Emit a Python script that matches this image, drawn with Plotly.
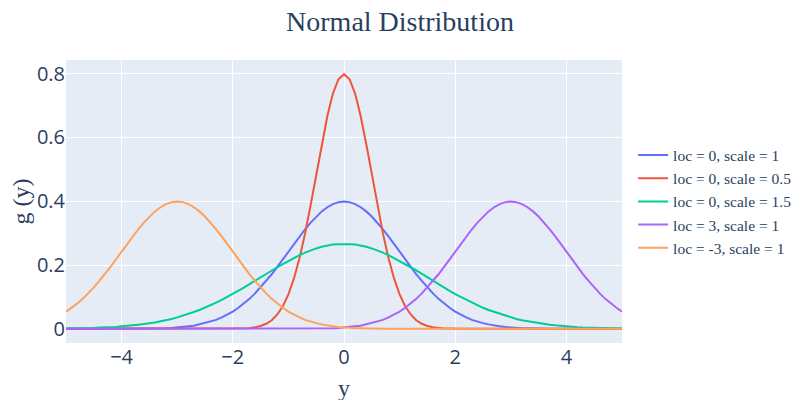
import plotly.graph_objects as go

x_vals = [
    -5.0, -4.9, -4.8, -4.7, -4.6, -4.5, -4.4, -4.3, -4.2, -4.1,
    -4.0, -3.9, -3.8, -3.7, -3.6, -3.5, -3.4, -3.3, -3.2, -3.1,
    -3.0, -2.9, -2.8, -2.7, -2.6, -2.5, -2.4, -2.3, -2.2, -2.1,
    -2.0, -1.9, -1.8, -1.7, -1.6, -1.5, -1.4, -1.3, -1.2, -1.1,
    -1.0, -0.9, -0.8, -0.7, -0.6, -0.5, -0.4, -0.3, -0.2, -0.1,
    0.0, 0.1, 0.2, 0.3, 0.4, 0.5, 0.6, 0.7, 0.8, 0.9,
    1.0, 1.1, 1.2, 1.3, 1.4, 1.5, 1.6, 1.7, 1.8, 1.9,
    2.0, 2.1, 2.2, 2.3, 2.4, 2.5, 2.6, 2.7, 2.8, 2.9,
    3.0, 3.1, 3.2, 3.3, 3.4, 3.5, 3.6, 3.7, 3.8, 3.9,
    4.0, 4.1, 4.2, 4.3, 4.4, 4.5, 4.6, 4.7, 4.8, 4.9,
    5.0,
]

g_loc0_scale1 = [
    0, 0, 0, 0, 0, 0, 0, 0, 0, 0,
    0.000, 0.000, 0.000, 0.000, 0.001, 0.001, 0.001, 0.002, 0.002, 0.003,
    0.004, 0.006, 0.008, 0.010, 0.014, 0.018, 0.022, 0.028, 0.036, 0.044,
    0.054, 0.066, 0.079, 0.094, 0.111, 0.130, 0.150, 0.171, 0.194, 0.218,
    0.242, 0.266, 0.290, 0.312, 0.333, 0.352, 0.368, 0.381, 0.391, 0.397,
    0.399, 0.397, 0.391, 0.381, 0.368, 0.352, 0.333, 0.312, 0.290, 0.266,
    0.242, 0.218, 0.194, 0.171, 0.150, 0.130, 0.111, 0.094, 0.079, 0.066,
    0.054, 0.044, 0.036, 0.028, 0.022, 0.018, 0.014, 0.010, 0.008, 0.006,
    0.004, 0.003, 0.002, 0.002, 0.001, 0.001, 0.001, 0.000, 0.000, 0.000,
    0, 0, 0, 0, 0, 0, 0, 0, 0, 0,
    0,
]

g_loc0_scale05 = [
    0, 0, 0, 0, 0, 0, 0, 0, 0, 0,
    0, 0, 0, 0, 0, 0, 0, 0, 0, 0,
    0, 0, 0, 0, 0, 0, 0, 0, 0, 0,
    0.000, 0.001, 0.001, 0.002, 0.005, 0.009, 0.016, 0.027, 0.045, 0.071,
    0.108, 0.158, 0.222, 0.299, 0.388, 0.484, 0.579, 0.666, 0.737, 0.782,
    0.798, 0.782, 0.737, 0.666, 0.579, 0.484, 0.388, 0.299, 0.222, 0.158,
    0.108, 0.071, 0.045, 0.027, 0.016, 0.009, 0.005, 0.002, 0.001, 0.001,
    0, 0, 0, 0, 0, 0, 0, 0, 0, 0,
    0, 0, 0, 0, 0, 0, 0, 0, 0, 0,
    0, 0, 0, 0, 0, 0, 0, 0, 0, 0,
    0,
]

g_loc0_scale15 = [
    0.001, 0.001, 0.002, 0.002, 0.002, 0.003, 0.004, 0.004, 0.005, 0.006,
    0.008, 0.009, 0.011, 0.013, 0.015, 0.017, 0.020, 0.024, 0.027, 0.031,
    0.036, 0.041, 0.047, 0.053, 0.059, 0.066, 0.074, 0.082, 0.091, 0.100,
    0.109, 0.119, 0.129, 0.140, 0.151, 0.161, 0.172, 0.183, 0.193, 0.203,
    0.213, 0.222, 0.231, 0.239, 0.246, 0.252, 0.257, 0.261, 0.264, 0.265,
    0.266, 0.265, 0.264, 0.261, 0.257, 0.252, 0.246, 0.239, 0.231, 0.222,
    0.213, 0.203, 0.193, 0.183, 0.172, 0.161, 0.151, 0.140, 0.129, 0.119,
    0.109, 0.100, 0.091, 0.082, 0.074, 0.066, 0.059, 0.053, 0.047, 0.041,
    0.036, 0.031, 0.027, 0.024, 0.020, 0.017, 0.015, 0.013, 0.011, 0.009,
    0.008, 0.006, 0.005, 0.004, 0.004, 0.003, 0.002, 0.002, 0.002, 0.001,
    0.001,
]

g_loc3_scale1 = [
    0, 0, 0, 0, 0, 0, 0, 0, 0, 0,
    0, 0, 0, 0, 0, 0, 0, 0, 0, 0,
    0, 0, 0, 0, 0, 0, 0, 0, 0, 0,
    0, 0, 0, 0, 0, 0, 0, 0, 0, 0,
    0.000, 0.000, 0.000, 0.000, 0.001, 0.001, 0.001, 0.002, 0.002, 0.003,
    0.004, 0.006, 0.008, 0.010, 0.014, 0.018, 0.022, 0.028, 0.036, 0.044,
    0.054, 0.066, 0.079, 0.094, 0.111, 0.130, 0.150, 0.171, 0.194, 0.218,
    0.242, 0.266, 0.290, 0.312, 0.333, 0.352, 0.368, 0.381, 0.391, 0.397,
    0.399, 0.397, 0.391, 0.381, 0.368, 0.352, 0.333, 0.312, 0.290, 0.266,
    0.242, 0.218, 0.194, 0.171, 0.150, 0.130, 0.111, 0.094, 0.079, 0.066,
    0.054,
]

g_locm3_scale1 = [
    0.054, 0.066, 0.079, 0.094, 0.111, 0.130, 0.150, 0.171, 0.194, 0.218,
    0.242, 0.266, 0.290, 0.312, 0.333, 0.352, 0.368, 0.381, 0.391, 0.397,
    0.399, 0.397, 0.391, 0.381, 0.368, 0.352, 0.333, 0.312, 0.290, 0.266,
    0.242, 0.218, 0.194, 0.171, 0.150, 0.130, 0.111, 0.094, 0.079, 0.066,
    0.054, 0.044, 0.036, 0.028, 0.022, 0.018, 0.014, 0.010, 0.008, 0.006,
    0.004, 0.003, 0.002, 0.002, 0.001, 0.001, 0.001, 0.000, 0.000, 0.000,
    0, 0, 0, 0, 0, 0, 0, 0, 0, 0,
    0, 0, 0, 0, 0, 0, 0, 0, 0, 0,
    0, 0, 0, 0, 0, 0, 0, 0, 0, 0,
    0, 0, 0, 0, 0, 0, 0, 0, 0, 0,
    0,
]

series_names = [
    "loc = 0, scale = 1",
    "loc = 0, scale = 0.5",
    "loc = 0, scale = 1.5",
    "loc = 3, scale = 1",
    "loc = -3, scale = 1",
]
series_values = [g_loc0_scale1, g_loc0_scale05, g_loc0_scale15, g_loc3_scale1, g_locm3_scale1]
colors = ["#636efa", "#EF553B", "#00cc96", "#ab63fa", "#FFA15A"]

SERIF = "Liberation Serif, Times New Roman, serif"

fig = go.Figure()
for name, vals, c in zip(series_names, series_values, colors):
    fig.add_trace(go.Scatter(x=x_vals, y=vals, mode="lines", name=name,
                             line=dict(color=c, width=2)))

fig.update_layout(
    template="plotly",
    width=784, height=450,
    margin=dict(l=58, r=170, t=52, b=115, autoexpand=False),
    title=dict(text="Normal Distribution", x=0.5, xanchor="center",
               y=0.97, yref="container", yanchor="middle",
               font=dict(family=SERIF, size=28, color="#2a3f5f")),
    legend=dict(font=dict(family=SERIF, size=15.5, color="#2a3f5f"),
                y=0.5, yanchor="middle", x=1.02, xanchor="left"),
    xaxis=dict(title=dict(text="y", font=dict(family=SERIF, size=24), standoff=10),
               range=[-5, 5], tickfont=dict(size=20), zeroline=False,
               dtick=2, automargin=False),
    yaxis=dict(title=dict(text="g (y)", font=dict(family=SERIF, size=24), standoff=14),
               tickfont=dict(size=20), zeroline=False, automargin=True),
)

fig.write_html("out.html")
